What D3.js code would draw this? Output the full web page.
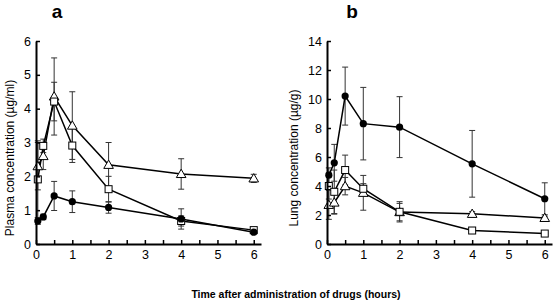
<!DOCTYPE html>
<html>
<head>
<meta charset="utf-8">
<script src="https://cdn.jsdelivr.net/npm/d3@7/dist/d3.min.js"></script>
<style>
  body { margin: 0; background: #fff; }
  svg { display: block; }
  text { font-family: "Liberation Sans", Arial, Helvetica, sans-serif; fill: #000; }
</style>
</head>
<body>
<svg id="chart" width="556" height="304"></svg>
<script>
// sampling times (hours)
const TIMES = [0.05, 0.2, 0.5, 1, 2, 4, 6]

// panel a: plasma (µg/ml)
const PLASMA_TRI     = [2.30, 2.60, 4.36, 3.50, 2.34, 2.07, 1.94]
const PLASMA_TRI_SD  = [0.70, 0.40, 1.14, 1.00, 0.66, 0.45, 0.12]
const PLASMA_SQ      = [1.91, 2.90, 4.21, 2.91, 1.62, 0.68, 0.41]
const PLASMA_SQ_SD   = [1.14, 0.20, 0.57, 0.50, 0.38, 0.15, 0.05]
const PLASMA_DOT     = [0.68, 0.80, 1.42, 1.25, 1.08, 0.74, 0.35]
const PLASMA_DOT_SD  = [0.10, 0.08, 0.43, 0.32, 0.17, 0.30, 0.04]

// panel b: lung (µg/g)
const LUNG_TRI     = [2.70, 2.86, 3.99, 3.53, 2.20, 2.08, 1.80]
const LUNG_TRI_SD  = [1.00, 0.80, 0.60, 1.20, 0.60, 0.15, 0.12]
const LUNG_SQ      = [4.00, 3.60, 5.10, 3.81, 2.22, 0.93, 0.72]
const LUNG_SQ_SD   = [0.90, 1.50, 1.03, 0.35, 0.70, 0.08, 0.06]
const LUNG_DOT     = [4.75, 5.60, 10.2, 8.30, 8.06, 5.53, 3.12]
const LUNG_DOT_SD  = [0.50, 1.27, 2.00, 2.50, 2.10, 2.30, 1.10]

const X_TICKS = [0, 1, 2, 3, 4, 5, 6]
const X_LABEL = 'Time after administration of drugs (hours)'

const PANELS = [
  {
    title: 'a', left: 36, right: 261, yMax: 6, yTicks: [0, 1, 2, 3, 4, 5, 6],
    yLabel: 'Plasma concentration (µg/ml)', labelX: 10, titleX: 57,
    series: [
      { shape: 'tri', values: PLASMA_TRI, sd: PLASMA_TRI_SD },
      { shape: 'sq',  values: PLASMA_SQ,  sd: PLASMA_SQ_SD },
      { shape: 'dot', values: PLASMA_DOT, sd: PLASMA_DOT_SD },
    ],
  },
  {
    title: 'b', left: 327, right: 552, yMax: 14, yTicks: [0, 2, 4, 6, 8, 10, 12, 14],
    yLabel: 'Lung concentration (µg/g)', labelX: 294, titleX: 352,
    series: [
      { shape: 'tri', values: LUNG_TRI, sd: LUNG_TRI_SD },
      { shape: 'sq',  values: LUNG_SQ,  sd: LUNG_SQ_SD },
      { shape: 'dot', values: LUNG_DOT, sd: LUNG_DOT_SD },
    ],
  },
]

const TOP = 41
const BOTTOM = 244
const svg = d3.select('#chart')

for (const p of PANELS) {
  const x = d3.scaleLinear().domain([0, 6.2]).range([p.left, p.right])
  const y = d3.scaleLinear().domain([0, p.yMax]).range([BOTTOM, TOP])
  const g = svg.append('g')

  // error bars
  for (const s of p.series) {
    const eb = g.append('g').attr('stroke', '#333').attr('stroke-width', 1)
    s.values.forEach((v, i) => {
      const cx = x(TIMES[i])
      const y1 = y(v + s.sd[i]), y0 = y(Math.max(0, v - s.sd[i]))
      eb.append('line').attr('x1', cx).attr('x2', cx).attr('y1', y1).attr('y2', y0)
      eb.append('line').attr('x1', cx - 3).attr('x2', cx + 3).attr('y1', y1).attr('y2', y1)
      eb.append('line').attr('x1', cx - 3).attr('x2', cx + 3).attr('y1', y0).attr('y2', y0)
    })
  }

  // lines
  const line = d3.line().x((d, i) => x(TIMES[i])).y(d => y(d))
  for (const s of p.series) {
    g.append('path')
      .attr('d', line(s.values))
      .attr('fill', 'none')
      .attr('stroke', '#000')
      .attr('stroke-width', 1.5)
  }

  // markers
  for (const s of p.series) {
    const pts = g.selectAll(null).data(s.values).enter()
    if (s.shape === 'dot') {
      pts.append('circle')
        .attr('cx', (d, i) => x(TIMES[i])).attr('cy', d => y(d)).attr('r', 3.6)
        .attr('fill', '#000')
    } else if (s.shape === 'sq') {
      pts.append('rect')
        .attr('x', (d, i) => x(TIMES[i]) - 3.5).attr('y', d => y(d) - 3.5)
        .attr('width', 7).attr('height', 7)
        .attr('fill', '#fff').attr('stroke', '#000').attr('stroke-width', 1)
    } else {
      pts.append('path')
        .attr('d', d3.symbol(d3.symbolTriangle, 40))
        .attr('transform', (d, i) => `translate(${x(TIMES[i])},${y(d) + 0.8})`)
        .attr('fill', '#fff').attr('stroke', '#000').attr('stroke-width', 1)
    }
  }

  // axes
  const xAxis = d3.axisBottom(x)
    .tickValues(d3.range(0, 6.01, 0.5))
    .tickFormat(v => X_TICKS.includes(v) ? d3.format('d')(v) : '')
    .tickSize(-4).tickSizeOuter(0).tickPadding(6)
  svg.append('g')
    .attr('transform', `translate(0,${BOTTOM})`)
    .call(xAxis)
    .call(a => a.select('.domain').attr('stroke', '#000').attr('stroke-width', 2))
    .call(a => a.selectAll('.tick line').attr('stroke', '#000').attr('stroke-width', 1.5))
    .call(a => a.selectAll('text').attr('font-size', 12.5).attr('font-family', null).attr('fill', '#000'))

  const yAxis = d3.axisLeft(y)
    .tickValues(p.yTicks)
    .tickFormat(d3.format('d'))
    .tickSize(-4).tickSizeOuter(0).tickPadding(5)
  svg.append('g')
    .attr('transform', `translate(${p.left},0)`)
    .call(yAxis)
    .call(a => a.select('.domain').attr('stroke', '#000').attr('stroke-width', 2))
    .call(a => a.selectAll('.tick line').attr('stroke', '#000').attr('stroke-width', 1.5))
    .call(a => a.selectAll('text').attr('font-size', 12.5).attr('font-family', null).attr('fill', '#000'))

  svg.append('text')
    .attr('transform', `translate(${p.labelX},158) rotate(-90)`)
    .attr('text-anchor', 'middle').attr('dy', '0.35em')
    .attr('font-size', 12)
    .text(p.yLabel)

  svg.append('text')
    .attr('x', p.titleX).attr('y', 18)
    .attr('text-anchor', 'middle')
    .attr('font-size', 19).attr('font-weight', 'bold')
    .text(p.title)
}

svg.append('text')
  .attr('x', 296).attr('y', 298)
  .attr('text-anchor', 'middle')
  .attr('font-size', 10.5).attr('font-weight', 'bold')
  .text(X_LABEL)
</script>
</body>
</html>
